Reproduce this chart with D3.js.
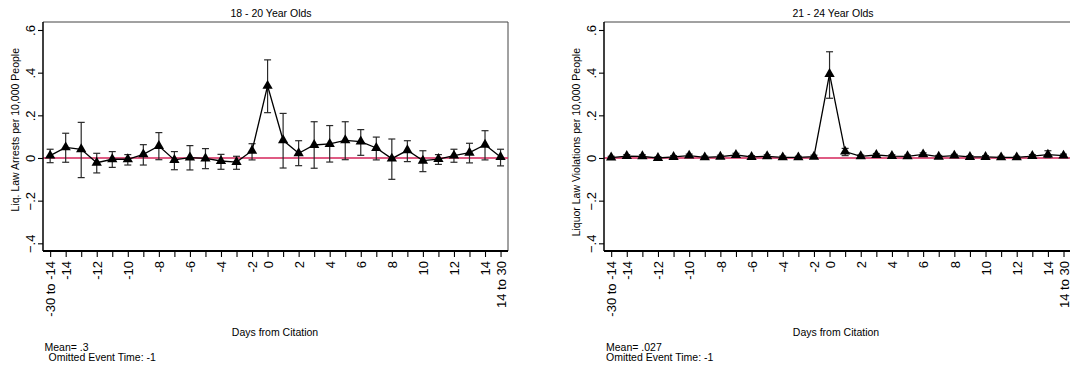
<!DOCTYPE html>
<html>
<head>
<meta charset="utf-8">
<script src="https://cdn.jsdelivr.net/npm/d3@7"></script>
<style>
  body { margin: 0; background: #fff; }
  text { font-family: "Liberation Sans", Arial, Helvetica, sans-serif; }
</style>
</head>
<body>
<div id="chart"></div>
<script>
// event time bins (-1 omitted)
var cats = ["-30 to -14","-14","-13","-12","-11","-10","-9","-8","-7","-6","-5","-4","-3","-2",
            "0","1","2","3","4","5","6","7","8","9","10","11","12","13","14","14 to 30"];
var shownLabels = ["-30 to -14","-14","-12","-10","-8","-6","-4","-2","0","2","4","6","8","10","12","14","14 to 30"];
var yTicks = [-0.4, -0.2, 0, 0.2, 0.4, 0.6];

// 18 - 20 year olds
var est18 = [0.011,0.05,0.041,-0.022,-0.006,-0.006,0.017,0.056,-0.009,0.002,-0.002,-0.014,-0.019,0.034,
             0.338,0.083,0.022,0.061,0.066,0.083,0.077,0.047,-0.003,0.036,-0.0125,-0.005,0.011,0.025,0.0625,0.005];
var hi18 = [0.041,0.116,0.167,0.022,0.03,0.016,0.0625,0.119,0.03,0.058,0.044,0.017,0.008,0.067,
            0.46,0.209,0.081,0.17,0.152,0.17,0.133,0.098,0.089,0.081,0.034,0.016,0.041,0.069,0.128,0.041];
var lo18 = [-0.022,-0.02,-0.092,-0.07,-0.044,-0.033,-0.033,-0.008,-0.055,-0.056,-0.05,-0.053,-0.053,-0.009,
            0.2125,-0.047,-0.036,-0.048,-0.019,-0.008,0.0125,-0.009,-0.1,-0.017,-0.064,-0.03,-0.02,-0.023,-0.009,-0.037];

// 21 - 24 year olds
var est21 = [0.002,0.009,0.008,0.0,0.005,0.011,0.003,0.006,0.014,0.005,0.008,0.003,0.003,0.006,
             0.394,0.03,0.008,0.014,0.009,0.008,0.017,0.006,0.011,0.005,0.005,0.003,0.003,0.009,0.016,0.011];
var hi21 = [0.008,0.016,0.015,0.006,0.011,0.018,0.009,0.013,0.022,0.011,0.015,0.009,0.008,0.013,
            0.498,0.045,0.014,0.021,0.015,0.014,0.024,0.012,0.017,0.011,0.011,0.008,0.008,0.016,0.034,0.018];
var lo21 = [-0.004,0.002,0.001,-0.006,-0.001,0.004,-0.003,-0.001,0.006,-0.001,0.001,-0.003,-0.002,-0.001,
            0.28,0.011,0.002,0.007,0.003,0.002,0.01,0.0,0.005,-0.001,-0.001,-0.002,-0.002,0.002,0.002,0.004];

var w = 1070, h = 370;
var plotTop = 22, plotBottom = 251;

var svg = d3.select("#chart").append("svg")
    .attr("width", w)
    .attr("height", h);

function fmtY(d) {
  if (d === 0) return "0";
  return d3.format(".1f")(d).replace("0.", ".");
}

function panel(o) {
  var x = d3.scaleLinear().domain([-0.46, 29.48]).range([o.left, o.right]);
  var y = d3.scaleLinear().domain([-0.436, 0.6375]).range([plotBottom, plotTop]);
  var g = svg.append("g");

  // frame (top / right)
  g.append("line").attr("x1", o.left).attr("x2", o.right).attr("y1", plotTop).attr("y2", plotTop)
    .attr("stroke", "#444").attr("stroke-width", 1);
  g.append("line").attr("x1", o.right).attr("x2", o.right).attr("y1", plotTop).attr("y2", plotBottom)
    .attr("stroke", "#444").attr("stroke-width", 1);

  // zero line
  g.append("line")
    .attr("x1", o.left).attr("x2", o.right)
    .attr("y1", y(0)).attr("y2", y(0))
    .attr("stroke", "#d4245a").attr("stroke-width", 1.3);

  // y axis
  var ya = g.append("g").attr("transform", "translate(" + o.left + ",0)")
    .call(d3.axisLeft(y).tickValues(yTicks).tickFormat(fmtY).tickSize(5).tickSizeOuter(0));
  ya.select(".domain").attr("stroke-width", 1.5).attr("d", "M0," + plotTop + "V" + plotBottom);
  ya.selectAll(".tick line").attr("stroke-width", 1.1);
  ya.selectAll(".tick text")
    .attr("transform", "rotate(-90)")
    .attr("x", 0).attr("y", -8).attr("dy", null)
    .attr("text-anchor", "middle")
    .attr("font-size", "13px")
    .attr("fill", "#000");

  // x axis
  var xa = g.append("g").attr("transform", "translate(0," + plotBottom + ")")
    .call(d3.axisBottom(x).tickValues(d3.range(cats.length))
      .tickFormat(function(i) { return shownLabels.indexOf(cats[i]) >= 0 ? cats[i] : ""; })
      .tickSize(6).tickSizeOuter(0));
  xa.select(".domain").attr("stroke-width", 1.8).attr("d", "M" + o.left + ",0H" + o.right);
  xa.selectAll(".tick line").attr("stroke-width", 1.1);
  xa.selectAll(".tick text")
    .attr("transform", "rotate(-90)")
    .attr("x", -10).attr("y", 0).attr("dy", "0.36em")
    .attr("text-anchor", "end")
    .attr("font-size", "13px")
    .attr("fill", "#000");
  g.selectAll(".tick text").attr("font-family", null);
  g.selectAll("g").attr("font-family", null).attr("font-size", null);
  g.selectAll(".domain, .tick line").attr("stroke", "#000");

  // error bars
  var idx = d3.range(cats.length);
  var bars = g.append("g").selectAll("g").data(idx).enter().append("g")
    .attr("stroke", "#2a2a2a").attr("stroke-width", 1.2);
  bars.append("line")
    .attr("x1", function(i) { return x(i); }).attr("x2", function(i) { return x(i); })
    .attr("y1", function(i) { return y(o.hi[i]); }).attr("y2", function(i) { return y(o.lo[i]); });
  bars.append("line")
    .attr("x1", function(i) { return x(i) - 3.5; }).attr("x2", function(i) { return x(i) + 3.5; })
    .attr("y1", function(i) { return y(o.hi[i]); }).attr("y2", function(i) { return y(o.hi[i]); });
  bars.append("line")
    .attr("x1", function(i) { return x(i) - 3.5; }).attr("x2", function(i) { return x(i) + 3.5; })
    .attr("y1", function(i) { return y(o.lo[i]); }).attr("y2", function(i) { return y(o.lo[i]); });

  // connected line
  var line = d3.line()
    .x(function(i) { return x(i); })
    .y(function(i) { return y(o.est[i]); });
  g.append("path").datum(idx)
    .attr("d", line)
    .attr("fill", "none")
    .attr("stroke", "#000")
    .attr("stroke-width", 1.3);

  // triangle markers
  g.append("g").selectAll("path").data(idx).enter().append("path")
    .attr("d", d3.symbol().type(d3.symbolTriangle).size(46))
    .attr("transform", function(i) { return "translate(" + x(i) + "," + y(o.est[i]) + ")"; })
    .attr("fill", "#000");

  // texts
  g.append("text").attr("x", o.titleX).attr("y", 17)
    .attr("text-anchor", "middle").attr("font-size", "10.5px")
    .text(o.title);

  g.append("text")
    .attr("transform", "translate(" + (o.left - 24) + ",48) rotate(-90)")
    .attr("text-anchor", "end").attr("font-size", "10.5px")
    .text(o.ylab);

  g.append("text").attr("x", o.xlabX).attr("y", 336)
    .attr("text-anchor", "middle").attr("font-size", "10.5px")
    .text("Days from Citation");

  g.append("text").attr("x", o.noteX).attr("y", 350.5)
    .attr("font-size", "10.5px").text(o.mean);
  g.append("text").attr("x", o.noteX + o.noteIndent).attr("y", 361)
    .attr("font-size", "10.5px").text("Omitted Event Time: -1");
}

panel({
  left: 43, right: 508,
  est: est18, hi: hi18, lo: lo18,
  title: "18 - 20 Year Olds", titleX: 271,
  ylab: "Liq. Law Arrests per 10,000 People",
  xlabX: 275,
  noteX: 44.5, mean: "Mean= .3", noteIndent: 4
});

panel({
  left: 604, right: 1071,
  est: est21, hi: hi21, lo: lo21,
  title: "21 - 24 Year Olds", titleX: 833,
  ylab: "Liquor Law Violations per 10,000 People",
  xlabX: 836,
  noteX: 606, mean: "Mean= .027", noteIndent: 0
});
</script>
</body>
</html>
